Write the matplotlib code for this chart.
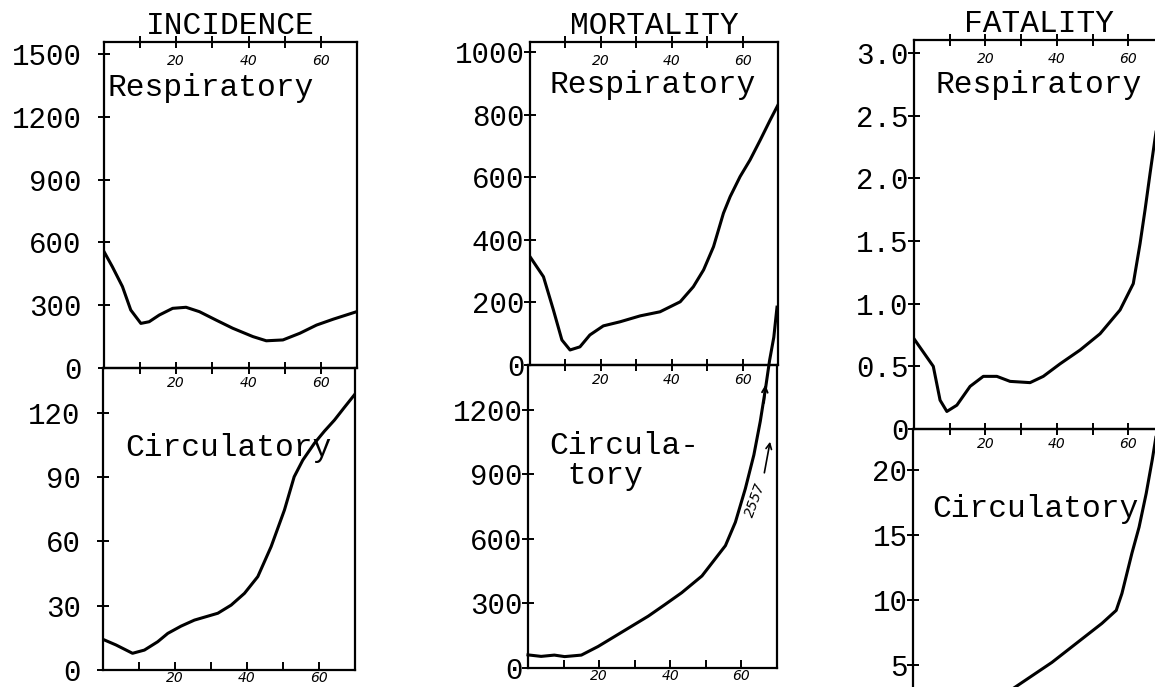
import matplotlib.pyplot as plt

plt.rcParams["font.family"] = "Liberation Mono"

W, H = 1155, 687

AGE_TICKS = [10, 20, 30, 40, 50, 60]
AGE_LABELS = ["", "20", "", "40", "", "60"]

# INCIDENCE
inc_resp_age = [0, 2.3, 5.1, 7.4, 10.2, 12.5, 15.3, 19.0, 22.7, 26.4, 31.0, 35.6, 41.2, 44.9, 49.5, 54.2, 58.8, 63.4, 69.9]
inc_resp = [556, 484, 389, 277, 213, 221, 253, 285, 290, 269, 229, 190, 150, 130, 134, 166, 205, 233, 269]
inc_circ_age = [0, 3.6, 8.2, 11.5, 15.2, 18.0, 21.7, 25.4, 31.9, 35.6, 39.3, 43.0, 46.7, 50.4, 53.1, 55.5, 58.7, 61.5, 64.3, 67.0, 69.8]
inc_circ = [14.3, 11.7, 7.8, 9.3, 13.2, 17.1, 20.5, 23.3, 26.5, 30.3, 35.8, 43.6, 57.6, 74.7, 90.2, 98.0, 105.8, 111.5, 116.7, 122.5, 128.4]

# MORTALITY
mor_resp_age = [0, 3.8, 6.6, 9.0, 11.3, 14.1, 16.9, 20.7, 25.4, 31.1, 36.7, 42.4, 46.1, 49.0, 51.8, 54.6, 56.5, 59.3, 62.1, 65.0, 67.8, 70.0]
mor_resp = [346, 282, 176, 80, 48, 58, 96, 125, 138, 157, 170, 202, 250, 304, 378, 485, 538, 602, 655, 719, 783, 831]
mor_circ_age = [0, 3.7, 7.4, 10.3, 15.0, 19.7, 24.4, 29.1, 33.8, 38.5, 43.2, 48.9, 55.5, 58.3, 61.1, 63.5, 65.3, 66.8, 67.9, 69.1, 70.0]
mor_circ = [61, 54, 60, 53, 60, 100, 147, 194, 241, 295, 350, 428, 569, 678, 834, 991, 1147, 1303, 1429, 1538, 1678]

# FATALITY
fat_resp_age = [0, 5.4, 7.3, 9.2, 12.0, 15.7, 19.4, 23.2, 26.9, 32.5, 36.2, 40.9, 46.5, 52.1, 57.7, 61.4, 63.3, 64.7, 66.1, 67.5, 69.0]
fat_resp = [0.72, 0.50, 0.23, 0.14, 0.19, 0.34, 0.42, 0.42, 0.38, 0.37, 0.42, 0.52, 0.63, 0.76, 0.95, 1.16, 1.48, 1.75, 2.04, 2.32, 2.60]
fat_circ_age = [27.0, 38.9, 52.9, 56.9, 58.5, 61.3, 63.3, 65.3, 67.0, 68.0]
fat_circ = [3.0, 5.2, 8.2, 9.2, 10.5, 13.6, 15.6, 18.2, 20.8, 22.5]


def make_axes(fig, left, top, right, bottom):
    ax = fig.add_axes([left / W, 1 - bottom / H, (right - left) / W, (bottom - top) / H])
    ax.set_facecolor("none")
    return ax


def style(ax, ymax, yticks, ylabels, ypad, upper):
    ax.set_xlim(0, 70)
    ax.set_ylim(0, ymax)
    ax.set_xticks(AGE_TICKS, AGE_LABELS, fontsize=10, fontstyle="italic", fontfamily="DejaVu Sans")
    ax.set_yticks(yticks, ylabels, fontsize=21)
    for s in ax.spines.values():
        s.set_linewidth(1.6)
    if upper:
        ax.tick_params(axis="x", direction="inout", length=9, width=1.4, pad=1, top=True)
        for a, lab in zip(AGE_TICKS, AGE_LABELS):
            ax.annotate(lab, (a, 1), xycoords=ax.get_xaxis_transform(), xytext=(0, -14),
                        textcoords="offset points", ha="center", va="center",
                        fontsize=10, fontstyle="italic", fontfamily="DejaVu Sans")
    else:
        ax.tick_params(axis="x", direction="in", length=6, width=1.4, pad=1)
    ax.tick_params(axis="y", direction="inout", length=8, width=1.4, pad=ypad)


fig = plt.figure(figsize=(W / 100, H / 100), dpi=100)
LW = 2.2
TXT = 22.5

# incidence
a1 = make_axes(fig, 104, 42, 357, 368)
style(a1, 1557, [0, 300, 600, 900, 1200, 1500], ["0", "300", "600", "900", "1200", "1500"], 12, True)
a1.plot(inc_resp_age, inc_resp, color="black", lw=LW)
a1.set_title("INCIDENCE", fontsize=TXT, pad=6)
a1.text(0.012, 0.86, "Respiratory", transform=a1.transAxes, fontsize=TXT, va="center")

b1 = make_axes(fig, 103, 368, 355, 670)
style(b1, 141, [0, 30, 60, 90, 120], ["0", "30", "60", "90", "120"], 12, False)
b1.plot(inc_circ_age, inc_circ, color="black", lw=LW)
b1.text(0.087, 0.735, "Circulatory", transform=b1.transAxes, fontsize=TXT, va="center")

# mortality
a2 = make_axes(fig, 530, 42, 778, 365)
style(a2, 1032, [0, 200, 400, 600, 800, 1000], ["0", "200", "400", "600", "800", "1000"], 0, True)
a2.plot(mor_resp_age, mor_resp, color="black", lw=LW)
a2.set_title("MORTALITY", fontsize=TXT, pad=6)
a2.text(0.08, 0.867, "Respiratory", transform=a2.transAxes, fontsize=TXT, va="center")

b2 = make_axes(fig, 528, 365, 777, 668)
style(b2, 1409, [0, 300, 600, 900, 1200], ["0", "300", "600", "900", "1200"], 0, False)
b2.plot(mor_circ_age, mor_circ, color="black", lw=LW, clip_on=False, zorder=5)
b2.text(0.084, 0.683, "Circula-\n tory", transform=b2.transAxes, fontsize=TXT, va="center",
        linespacing=1.0)
b2.annotate("", xy=(66.8, 1330), xytext=(66.3, 1220),
            arrowprops=dict(arrowstyle="->", lw=1.4, color="black"))
b2.annotate("", xy=(68.2, 1065), xytext=(66.3, 895),
            arrowprops=dict(arrowstyle="->", lw=1.2, color="black"))
b2.text(63.8, 783, "2557", rotation=70, fontsize=10, fontstyle="italic",
        fontfamily="DejaVu Sans", ha="center", va="center")

# fatality
a3 = make_axes(fig, 914, 40, 1164, 429)
style(a3, 3.104, [0, 0.5, 1.0, 1.5, 2.0, 2.5, 3.0], ["0", "0.5", "1.0", "1.5", "2.0", "2.5", "3.0"], 0, True)
a3.plot(fat_resp_age, fat_resp, color="black", lw=LW)
a3.set_title("FATALITY", fontsize=TXT, pad=6)
a3.text(0.084, 0.885, "Respiratory", transform=a3.transAxes, fontsize=TXT, va="center")

b3 = make_axes(fig, 913, 429, 1163, 730)
style(b3, 23.15, [5, 10, 15, 20], ["5", "10", "15", "20"], 0, False)
b3.tick_params(axis="x", labelbottom=False)  # lower edge falls outside the picture
b3.plot(fat_circ_age, fat_circ, color="black", lw=LW)
b3.text(0.076, 0.733, "Circulatory", transform=b3.transAxes, fontsize=TXT, va="center")

fig.savefig("out.png", dpi=100)
